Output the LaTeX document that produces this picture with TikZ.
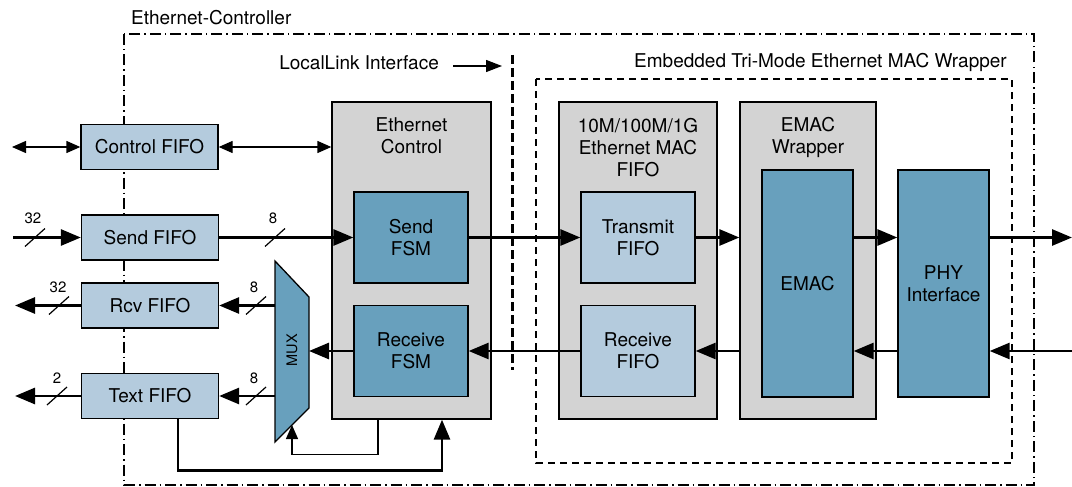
\documentclass[tikz,border=0pt]{standalone}
\usepackage{fontspec}
\setmainfont{TeX Gyre Heros}
\usetikzlibrary{arrows.meta}
\definecolor{lightblu}{RGB}{180,203,221}
\definecolor{darkblu}{RGB}{104,160,189}
\definecolor{grayfill}{RGB}{211,211,211}
\begin{document}
\begin{tikzpicture}[x=1pt,y=-1pt,
  font=\fontsize{19}{22}\selectfont,
  box/.style={draw, line width=1.3pt, inner sep=0pt, align=center},
  fifo/.style={box, fill=lightblu, minimum width=137pt, minimum height=45pt},
  inner/.style={box, fill=lightblu, minimum width=114pt, minimum height=91pt},
  fsm/.style={box, fill=darkblu, minimum width=114pt, minimum height=91pt},
  tall/.style={box, fill=darkblu, minimum width=91pt, minimum height=227pt},
  grp/.style={box, fill=grayfill, minimum height=317pt},
  title/.style={inner sep=0pt, align=center},
  thickarr/.style={line width=2.8pt, -{Triangle[length=20pt,width=16pt]}},
  thinarr/.style={line width=1.3pt, -{Triangle[length=14pt,width=12pt]}},
  thindbl/.style={line width=1.3pt, {Triangle[length=14pt,width=12pt]}-{Triangle[length=14pt,width=12pt]}},
  busmark/.style={line width=1.2pt},
  buslabel/.style={inner sep=0pt, font=\fontsize{15}{17}\selectfont},
  dashdotline/.style={line width=1.2pt, dash pattern=on 11pt off 4pt on 1.5pt off 4pt},
  dashline/.style={line width=1.2pt, dash pattern=on 7pt off 5pt},
  llline/.style={line width=3pt, dash pattern=on 9pt off 4pt}
]
\useasboundingbox (0,0) rectangle (1072,487);

% frames
\draw[dashdotline] (124,34) rectangle (1034,485);
\node[title, anchor=base west] (ectitle) at (131,25) {Ethernet-Controller};
\draw[dashline] (536,79) rectangle (1012,463);
\node[title, anchor=base west] (wraptitle) at (634,68) {Embedded Tri-Mode Ethernet MAC Wrapper};
\node[title, anchor=base east] (lltitle) at (439,70) {LocalLink Interface};
\coordinate (llA) at (453,66);
\coordinate (llB) at (502,66);
\draw[line width=1.3pt, -{Triangle[length=16pt,width=12pt]}] (llA) -- (llB);

% group boxes
\node[grp, minimum width=159pt] (ectrl) at (411.5,260.5) {};
\node[title] (ectrlt) at (411.5,136) {Ethernet\\Control};
\node[grp, minimum width=158pt] (macfifo) at (638,260.5) {};
\node[title] (macfifot) at (638,147.5) {10M/100M/1G\\Ethernet MAC\\FIFO};
\node[grp, minimum width=136pt] (ewrap) at (808,260.5) {};
\node[title] (ewrapt) at (808,137) {EMAC\\Wrapper};

% inner blocks
\node[fsm] (sfsm) at (411,237.5) {Send\\FSM};
\node[fsm] (rfsm) at (411,351) {Receive\\FSM};
\node[inner] (tfifo) at (638,237.5) {Transmit\\FIFO};
\node[inner] (rfifo) at (638,351) {Receive\\FIFO};
\node[tall] (emac) at (807.5,283.5) {EMAC};
\node[tall] (phy) at (943.5,283.5) {PHY\\Interface};

% FIFOs
\node[fifo] (cfifo) at (149.5,147) {Control FIFO};
\node[fifo] (sfifo) at (150,237.5) {Send FIFO};
\node[fifo] (rcvfifo) at (150,305.5) {Rcv FIFO};
\node[fifo] (txtfifo) at (150,396) {Text FIFO};

% MUX
\coordinate (muxtl) at (275,261);
\coordinate (muxtr) at (309,297);
\coordinate (muxbr) at (309,408);
\coordinate (muxbl) at (275,442);
\draw[line width=1.3pt, fill=darkblu] (muxtl) -- (muxtr) -- (muxbr) -- (muxbl) -- cycle;
\node[inner sep=0pt, rotate=90, font=\fontsize{14.5}{16}\selectfont] (mux) at (292,350) {MUX};
\coordinate (muxin) at (309,351);
\coordinate (muxo1) at (275,305.5);
\coordinate (muxo2) at (275,396);
\coordinate (muxfb) at (292,425);

% external ends
\coordinate (ctrlext) at (12,147);
\coordinate (sendext) at (13,237.5);
\coordinate (rcvext) at (15,305.5);
\coordinate (txtext) at (15,396);
\coordinate (txout) at (1072,237.5);
\coordinate (rxin) at (1072,351);

% control
\draw[thindbl] (ctrlext) -- (cfifo.west);
\draw[thindbl] (cfifo.east) -- (cfifo.east -| ectrl.west);

% send path
\draw[thickarr] (sendext) -- (sfifo.west);
\draw[thickarr] (sfifo.east) -- (sfsm.west);
\draw[thickarr] (sfsm.east) -- (tfifo.west);
\draw[thickarr] (tfifo.east) -- (tfifo.east -| ewrap.west);
\draw[thickarr] (tfifo.east -| emac.east) -- (tfifo.east -| phy.west);
\draw[thickarr] (tfifo.east -| phy.east) -- (txout);

% receive path
\draw[thickarr] (rxin) -- (rfifo.east -| phy.east);
\draw[thickarr] (rfifo.east -| phy.west) -- (rfifo.east -| emac.east);
\draw[thickarr] (rfifo.east -| ewrap.west) -- (rfifo.east);
\draw[thickarr] (rfifo.west) -- (rfsm.east);
\draw[thickarr] (rfsm.west) -- (muxin);
\draw[thickarr] (muxo1) -- (rcvfifo.east);
\draw[thickarr] (muxo2) -- (txtfifo.east);
\draw[thickarr] (rcvfifo.west) -- (rcvext);
\draw[thickarr] (txtfifo.west) -- (txtext);

% bottom paths
\draw[thickarr] ([xshift=28pt]txtfifo.south) -- ++(0,51) -| ([xshift=30.5pt]ectrl.south);
\draw[thinarr] ([xshift=-33.5pt]ectrl.south) -- ++(0,35) -| (muxfb);

% LocalLink boundary
\draw[llline] (512,55) -- (512,370);

% bus width marks
\draw[busmark] (35,237.5) ++(-10,9) -- ++(20,-18);
\node[buslabel] (b1) at (33,218) {32};
\draw[busmark] (275,237.5) ++(-10,9) -- ++(20,-18);
\node[buslabel] (b2) at (273,218) {8};
\draw[busmark] (59,305.5) ++(-10,9) -- ++(20,-18);
\node[buslabel] (b3) at (58,287) {32};
\draw[busmark] (256,305.5) ++(-10,9) -- ++(20,-18);
\node[buslabel] (b4) at (254,287) {8};
\draw[busmark] (57,396) ++(-10,9) -- ++(20,-18);
\node[buslabel] (b5) at (57,378) {2};
\draw[busmark] (256,396) ++(-10,9) -- ++(20,-18);
\node[buslabel] (b6) at (254,378) {8};
\end{tikzpicture}
\end{document}
